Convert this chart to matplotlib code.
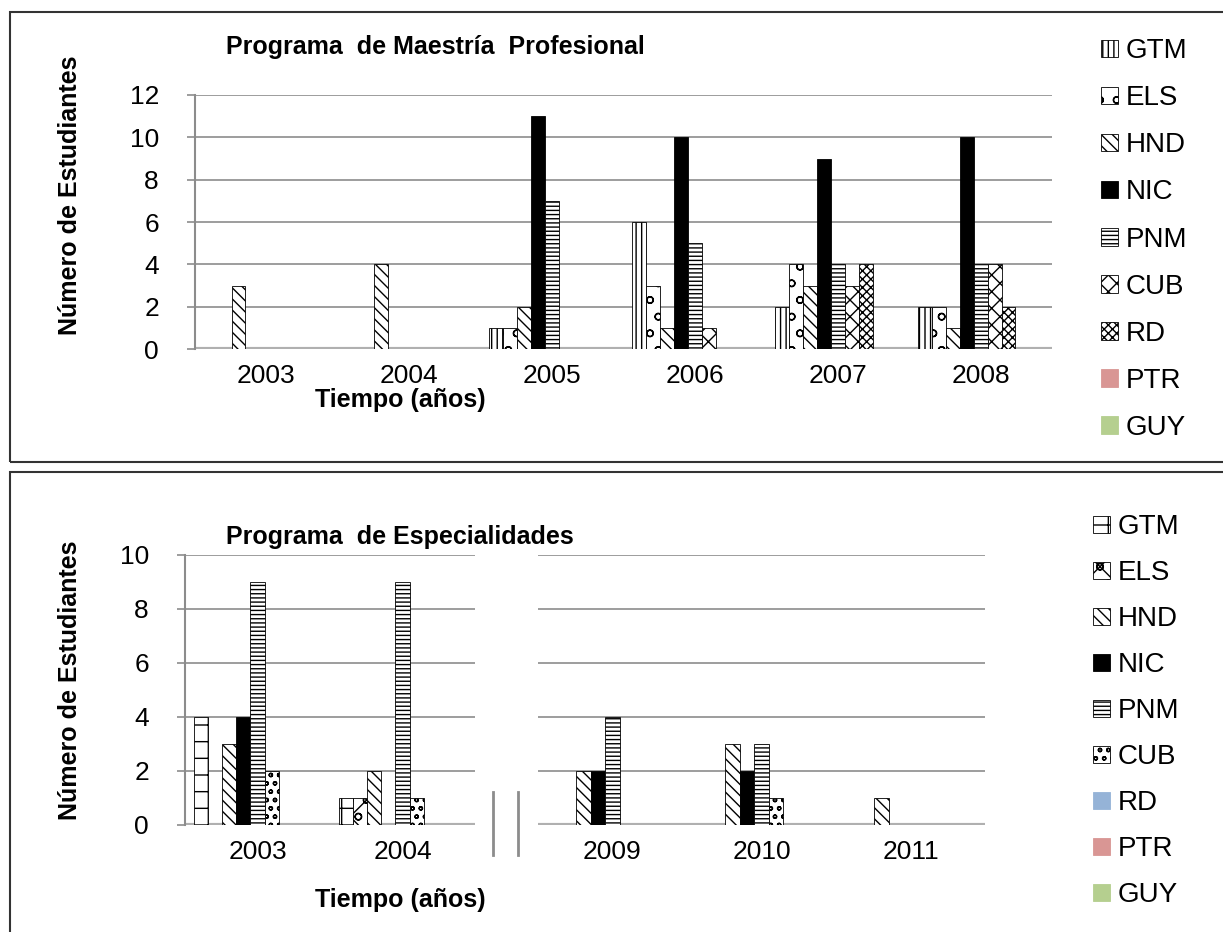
import numpy as np
import matplotlib
matplotlib.use("Agg")
import matplotlib.pyplot as plt
from matplotlib.lines import Line2D
from matplotlib.patches import Rectangle

plt.rcParams['font.family'] = ['Liberation Sans', 'DejaVu Sans']
plt.rcParams['hatch.linewidth'] = 1.0

######################################
## data ##############################
######################################
series = ["GTM", "ELS", "HND", "NIC", "PNM", "CUB", "RD", "PTR", "GUY"]

years_mp = ["2003", "2004", "2005", "2006", "2007", "2008"]
gtm_mp = [0, 0, 1, 6, 2, 2]
els_mp = [0, 0, 1, 3, 4, 2]
hnd_mp = [3, 4, 2, 1, 3, 1]
nic_mp = [0, 0, 11, 10, 9, 10]
pnm_mp = [0, 0, 7, 5, 4, 4]
cub_mp = [0, 0, 0, 1, 3, 4]
rd_mp = [0, 0, 0, 0, 4, 2]
ptr_mp = [0, 0, 0, 0, 0, 0]
guy_mp = [0, 0, 0, 0, 0, 0]

years_esp_a = ["2003", "2004"]
years_esp_b = ["2009", "2010", "2011"]
gtm_esp = [4, 1, 0, 0, 0]
els_esp = [0, 1, 0, 0, 0]
hnd_esp = [3, 2, 2, 3, 1]
nic_esp = [4, 0, 2, 2, 0]
pnm_esp = [9, 9, 4, 3, 0]
cub_esp = [2, 1, 0, 1, 0]
rd_esp = [0, 0, 0, 0, 0]
ptr_esp = [0, 0, 0, 0, 0]
guy_esp = [0, 0, 0, 0, 0]

# styles (face, hatch)
style_mp = [("white", "|||"), ("white", "o"), ("white", "\\\\\\"), ("black", ""),
            ("white", "----"), ("white", "xx"), ("white", "xxxx"),
            ("#d99694", ""), ("#b5cf8f", "")]
style_esp = [("white", "+"), ("white", "xo"), ("white", "\\\\\\"), ("black", ""),
             ("white", "----"), ("white", "oo"), ("#95b3d7", ""),
             ("#d99694", ""), ("#b5cf8f", "")]

W, H = 1223, 932
fig = plt.figure(figsize=(W / 100, H / 100), dpi=100)

def fx(px):
    return px / W

def fy(py):
    return 1 - py / H

FS = 19      # tick labels
TFS = 18     # titles
LFS = 20     # legend
GRID = "#8c8c8c"


def draw_bars(ax, cats, data, styles, ymax, step, show_y=True):
    n = len(data)
    x = np.arange(len(cats))
    slot = 0.88 / n
    handles = []
    for i, (vals, (fc, hatch)) in enumerate(zip(data, styles)):
        ec = "black" if fc in ("white", "black") else fc
        b = ax.bar(x + (i - (n - 1) / 2) * slot, vals, slot, facecolor=fc,
                   hatch=hatch, edgecolor=ec, linewidth=0.6, zorder=3)
        handles.append(b)
    ax.set_xlim(-0.5, len(cats) - 0.5)
    ax.set_ylim(0, ymax)
    ax.set_yticks(np.arange(0, ymax + 1, step))
    ax.set_xticks(x)
    ax.set_xticklabels(cats, fontsize=FS)
    ax.yaxis.grid(True, color=GRID, linewidth=1.2, zorder=0)
    ax.tick_params(axis="x", length=0, pad=11)
    ax.tick_params(axis="y", labelsize=FS, color=GRID, length=6, width=1.2, pad=20)
    for s in ["top", "right", "bottom"]:
        ax.spines[s].set_visible(False)
    if show_y:
        ax.spines["left"].set_color(GRID)
        ax.spines["left"].set_linewidth(1.5)
    else:
        ax.spines["left"].set_visible(False)
        ax.tick_params(axis="y", left=False, labelleft=False)
    # floor of the chart
    ax.axhline(0, color="#b0b0b0", linewidth=3, zorder=2)
    return handles


######################################
## top chart #########################
######################################
ax1 = fig.add_axes([fx(195), fy(349), fx(1052 - 195), (349 - 95) / H])
data_mp = [gtm_mp, els_mp, hnd_mp, nic_mp, pnm_mp, cub_mp, rd_mp, ptr_mp, guy_mp]
h1 = draw_bars(ax1, years_mp, data_mp, style_mp, 12, 2)
fig.text(fx(435), fy(47), "Programa  de Maestría  Profesional", fontsize=TFS,
         fontweight="bold", ha="center", va="center")
fig.text(fx(400), fy(400), "Tiempo (años)", fontsize=TFS, fontweight="bold",
         ha="center", va="center")
fig.text(fx(70), fy(195), "Número de Estudiantes", fontsize=18, fontweight="bold",
         rotation=90, ha="center", va="center")
fig.legend(h1, series, loc="upper left", bbox_to_anchor=(fx(1090), fy(27)),
           frameon=False, fontsize=LFS, handlelength=0.6, handleheight=0.6,
           handletextpad=0.3, labelspacing=0.76, borderaxespad=0)

######################################
## bottom chart (broken axis) ########
######################################
data_esp = [gtm_esp, els_esp, hnd_esp, nic_esp, pnm_esp, cub_esp, rd_esp, ptr_esp, guy_esp]
na = len(years_esp_a)
ax2 = fig.add_axes([fx(185), fy(825), fx(475 - 185), (825 - 555) / H])
h2 = draw_bars(ax2, years_esp_a, [d[:na] for d in data_esp], style_esp, 10, 2)
ax3 = fig.add_axes([fx(538), fy(825), fx(985 - 538), (825 - 555) / H])
draw_bars(ax3, years_esp_b, [d[na:] for d in data_esp], style_esp, 10, 2, show_y=False)

# break marks
for bx in (493, 518):
    fig.add_artist(Line2D([fx(bx), fx(bx)], [fy(792), fy(855)], color=GRID, linewidth=2))

fig.text(fx(400), fy(537), "Programa  de Especialidades", fontsize=TFS,
         fontweight="bold", ha="center", va="center")
fig.text(fx(400), fy(900), "Tiempo (años)", fontsize=TFS, fontweight="bold",
         ha="center", va="center")
fig.text(fx(70), fy(680), "Número de Estudiantes", fontsize=18, fontweight="bold",
         rotation=90, ha="center", va="center")
fig.legend(h2, series, loc="upper left", bbox_to_anchor=(fx(1082), fy(503)),
           frameon=False, fontsize=LFS, handlelength=0.6, handleheight=0.6,
           handletextpad=0.3, labelspacing=0.72, borderaxespad=0)

# panel frames
for y0, y1 in ((12, 462), (472, 945)):
    fig.add_artist(Rectangle((fx(10), fy(y1)), fx(1240), (y1 - y0) / H,
                             fill=False, edgecolor="#333333", linewidth=1.5))

fig.savefig("out.png", dpi=100)
